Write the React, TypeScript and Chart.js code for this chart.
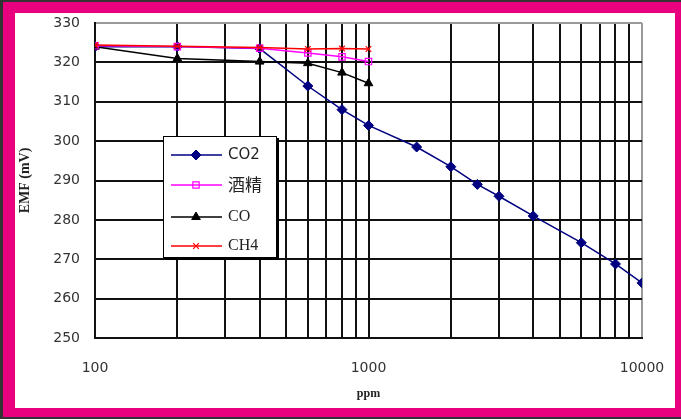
import React, { useEffect, useRef } from "react";
import { Chart, registerables } from "chart.js";
import { drawPoint } from "chart.js/helpers";

Chart.register(...registerables);

const seriesNames = ["CO2", "酒精", "CO", "CH4"];

const co2X = [100, 200, 400, 600, 800, 1000, 1500, 2000, 2500, 3000, 4000, 6000, 8000, 10000];
const co2Y = [324, 324, 323.5, 314, 308, 304, 298.5, 293.5, 289, 286, 281, 274.2, 268.8, 264];

const alcoholX = [100, 200, 400, 600, 800, 1000];
const alcoholY = [324.2, 324, 323.6, 322.4, 321.4, 320.2];

const coX = [100, 200, 400, 600, 800, 1000];
const coY = [324, 321, 320.2, 319.8, 317.4, 314.7];

const ch4X = [100, 200, 400, 600, 800, 1000];
const ch4Y = [324.4, 324.1, 323.8, 323.4, 323.5, 323.4];

const xGridValues = [100, 200, 300, 400, 500, 600, 700, 800, 900, 1000, 2000, 3000, 4000, 5000, 6000, 7000, 8000, 9000, 10000];
const xTickLabels = ["100", "1000", "10000"];
const yTickValues = [250, 260, 270, 280, 290, 300, 310, 320, 330];

const toPoints = (xs: number[], ys: number[]) => xs.map((x, i) => ({ x, y: ys[i] }));

const legendFonts = [
  "15px 'DejaVu Sans'",
  "17px 'Noto Sans CJK SC'",
  "16px 'Liberation Serif'",
  "16px 'Liberation Serif'",
];
const legendRowOffsets = [19, 49, 81, 110];

const boxLegendPlugin = {
  id: "boxLegend",
  afterDraw(chart: any) {
    const { ctx, chartArea } = chart;
    const x = chartArea.left + 68;
    const y = chartArea.top + 113;
    const w = 114;
    const h = 122;
    ctx.save();
    ctx.fillStyle = "#000";
    ctx.fillRect(x + 2, y + 2, w, h);
    ctx.fillStyle = "#fff";
    ctx.fillRect(x, y, w, h);
    ctx.strokeStyle = "#000";
    ctx.lineWidth = 1;
    ctx.strokeRect(x + 0.5, y + 0.5, w - 1, h - 1);
    chart.data.datasets.forEach((ds: any, i: number) => {
      const cy = y + legendRowOffsets[i];
      ctx.strokeStyle = ds.borderColor;
      ctx.lineWidth = ds.borderWidth;
      ctx.beginPath();
      ctx.moveTo(x + 8, cy);
      ctx.lineTo(x + 59, cy);
      ctx.stroke();
      ctx.fillStyle = ds.pointBackgroundColor;
      ctx.strokeStyle = ds.pointBorderColor;
      ctx.lineWidth = ds.pointBorderWidth;
      drawPoint(ctx, { pointStyle: ds.pointStyle, radius: ds.pointRadius, rotation: 0, borderWidth: ds.pointBorderWidth }, x + 33, cy);
      ctx.fillStyle = "#222";
      ctx.font = legendFonts[i];
      ctx.textBaseline = "middle";
      ctx.textAlign = "left";
      ctx.fillText(ds.label, x + 65, cy);
    });
    ctx.restore();
  },
};

export default function App() {
  const canvasRef = useRef<HTMLCanvasElement | null>(null);

  useEffect(() => {
    document.body.style.margin = "0";
    const canvas = canvasRef.current;
    if (!canvas) return;
    const chart = new Chart(canvas, {
      type: "line",
      data: {
        datasets: [
          {
            label: seriesNames[0],
            data: toPoints(co2X, co2Y),
            borderColor: "#000080",
            borderWidth: 1.5,
            pointStyle: "rectRot",
            pointRadius: 5,
            pointBackgroundColor: "#000080",
            pointBorderColor: "#000080",
            pointBorderWidth: 1,
            order: 3,
          },
          {
            label: seriesNames[1],
            data: toPoints(alcoholX, alcoholY),
            borderColor: "#FF00FF",
            borderWidth: 1.5,
            pointStyle: "rect",
            pointRadius: 4.5,
            pointBackgroundColor: "rgba(255,255,255,0)",
            pointBorderColor: "#FF00FF",
            pointBorderWidth: 1.2,
            order: 1,
          },
          {
            label: seriesNames[2],
            data: toPoints(coX, coY),
            borderColor: "#000000",
            borderWidth: 1.5,
            pointStyle: "triangle",
            pointRadius: 5,
            pointBackgroundColor: "#000000",
            pointBorderColor: "#000000",
            pointBorderWidth: 1,
            order: 2,
          },
          {
            label: seriesNames[3],
            data: toPoints(ch4X, ch4Y),
            borderColor: "#FF0000",
            borderWidth: 1.5,
            pointStyle: "crossRot",
            pointRadius: 4,
            pointBackgroundColor: "#FF0000",
            pointBorderColor: "#FF0000",
            pointBorderWidth: 1.2,
            order: 0,
          },
        ],
      },
      options: {
        responsive: false,
        animation: false,
        devicePixelRatio: 1,
        layout: { padding: { top: 10, right: 33, left: 0, bottom: 0 } },
        plugins: { legend: { display: false }, tooltip: { enabled: false } },
        scales: {
          x: {
            type: "logarithmic",
            min: 100,
            max: 10000,
            afterBuildTicks: (scale: any) => {
              scale.ticks = xGridValues.map((v) => ({ value: v }));
            },
            afterFit: (scale: any) => {
              scale.height = 70;
              scale.paddingLeft = 0;
              scale.paddingRight = 0;
            },
            ticks: {
              autoSkip: false,
              maxRotation: 0,
              padding: 22,
              color: "#333",
              font: { family: "'DejaVu Sans'", size: 14 },
              callback: (value: any) => (xTickLabels.includes(String(value)) ? String(value) : ""),
            },
            grid: {
              drawTicks: false,
              color: (c: any) => (c.tick && c.tick.value === 10000 ? "#999" : "#111"),
              lineWidth: 2,
            },
            border: { color: "#111", width: 2 },
            title: {
              display: true,
              text: "ppm",
              color: "#222",
              font: { family: "'Liberation Serif'", size: 12, weight: "bold" },
              padding: { top: 0, bottom: 7 },
            },
          },
          y: {
            type: "linear",
            min: 250,
            max: 330,
            afterBuildTicks: (scale: any) => {
              scale.ticks = yTickValues.map((v) => ({ value: v }));
            },
            afterFit: (scale: any) => {
              scale.width = 80;
              scale.paddingTop = 0;
              scale.paddingBottom = 0;
            },
            ticks: {
              padding: 15,
              color: "#333",
              font: { family: "'DejaVu Sans'", size: 14 },
              callback: (value: any) => String(value),
            },
            grid: {
              drawTicks: false,
              color: (c: any) => (c.tick && c.tick.value === 330 ? "#999" : "#111"),
              lineWidth: 2,
            },
            border: { color: "#111", width: 2 },
            title: {
              display: true,
              text: "EMF (mV)",
              color: "#222",
              font: { family: "'Liberation Serif'", size: 14, weight: "bold" },
              padding: { top: 2, bottom: 0 },
            },
          },
        },
      },
      plugins: [boxLegendPlugin],
    } as any);
    return () => chart.destroy();
  }, []);

  return (
    <div
      style={{
        width: 681,
        height: 419,
        boxSizing: "border-box",
        borderTop: "2px solid #333",
        borderLeft: "3px solid #333",
        borderBottom: "2px solid #333",
        background: "#E8007F",
        paddingTop: 11,
        paddingLeft: 12,
        paddingRight: 6,
        paddingBottom: 9,
      }}
    >
      <div style={{ width: 660, height: 395, background: "#fff" }}>
        <canvas ref={canvasRef} width={660} height={395} style={{ display: "block" }} />
      </div>
    </div>
  );
}
